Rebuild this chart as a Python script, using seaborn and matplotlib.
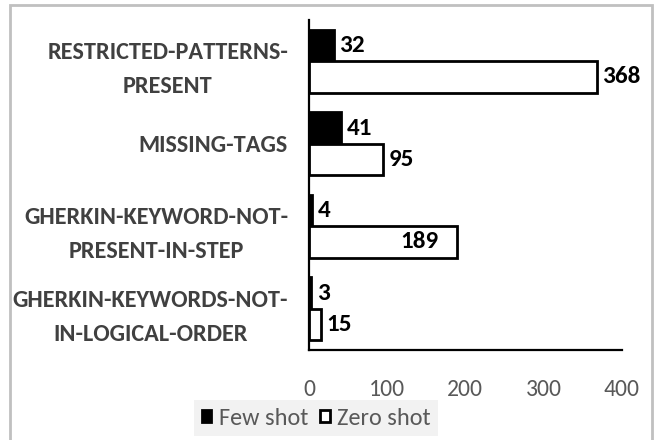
import numpy as np
import pandas as pd
import matplotlib
matplotlib.use("Agg")
import matplotlib.pyplot as plt
from matplotlib.patches import Rectangle
import seaborn as sns

categories = [
    "RESTRICTED-PATTERNS-\nPRESENT",
    "MISSING-TAGS",
    "GHERKIN-KEYWORD-NOT-\nPRESENT-IN-STEP",
    "GHERKIN-KEYWORDS-NOT-\nIN-LOGICAL-ORDER",
]
few_shot = [32, 41, 4, 3]
zero_shot = [368, 95, 189, 15]
series_names = ["Few shot", "Zero shot"]
# labels drawn inside the bar end instead of outside
inside_labels = {(2, "Zero shot")}

df = pd.DataFrame({
    "category": categories * 2,
    "count": few_shot + zero_shot,
    "shot": [series_names[0]] * len(categories) + [series_names[1]] * len(categories),
})

sns.set_style("white")
plt.rcParams["font.family"] = ["Carlito", "DejaVu Sans"]

fig = plt.figure(figsize=(6.6, 4.4), dpi=100)
ax = fig.add_axes([0.468, 0.2045, 0.474, 0.75])

sns.barplot(data=df, y="category", x="count", hue="shot", orient="h",
            palette={"Few shot": "black", "Zero shot": "white"},
            edgecolor="black", linewidth=2, width=0.76, gap=0,
            order=categories, hue_order=series_names, ax=ax)

ax.set_xlim(0, 400)
ax.set_xticks([0, 100, 200, 300, 400])
ax.set_xlabel("")
ax.set_ylabel("")
ax.tick_params(axis="x", length=0, pad=21, labelsize=17, labelcolor="#595959")
ax.tick_params(axis="y", length=0, pad=15)
ax.set_yticks(range(len(categories)))
ax.set_yticklabels(categories, fontsize=17.5, fontweight="bold", color="#404040",
                   ha="right", multialignment="center", linespacing=1.75)

for side in ["top", "right"]:
    ax.spines[side].set_visible(False)
for side in ["left", "bottom"]:
    ax.spines[side].set_color("black")
    ax.spines[side].set_linewidth(1.6)

for cont, name in zip(ax.containers, series_names):
    for i, p in enumerate(cont.patches):
        val = p.get_width()
        yc = p.get_y() + p.get_height() / 2
        if (i, name) in inside_labels:
            ax.annotate(f"{int(val)}", (val, yc), xytext=(-13, 0), textcoords="offset points",
                        ha="right", va="center", fontsize=18, fontweight="bold", color="black")
        else:
            ax.annotate(f"{int(val)}", (val, yc), xytext=(4, 0), textcoords="offset points",
                        ha="left", va="center", fontsize=18, fontweight="bold", color="black")

handles, labels = ax.get_legend_handles_labels()
ax.legend_.remove()
leg = fig.legend(handles, labels, loc="center", bbox_to_anchor=(0.479, 0.05), ncol=2,
                 fontsize=17.5, frameon=True, fancybox=False, facecolor="#f2f2f2",
                 edgecolor="none", framealpha=1, handlelength=0.4, handleheight=0.4,
                 handletextpad=0.3, columnspacing=0.5, borderpad=0.3)
for t in leg.get_texts():
    t.set_color("#595959")

fig.patches.append(Rectangle((10 / 660, -0.02), 642 / 660, 1.02 - 5 / 440,
                             transform=fig.transFigure, fill=False,
                             edgecolor="#c0c0c0", linewidth=2))

fig.savefig("out.png", dpi=100)
